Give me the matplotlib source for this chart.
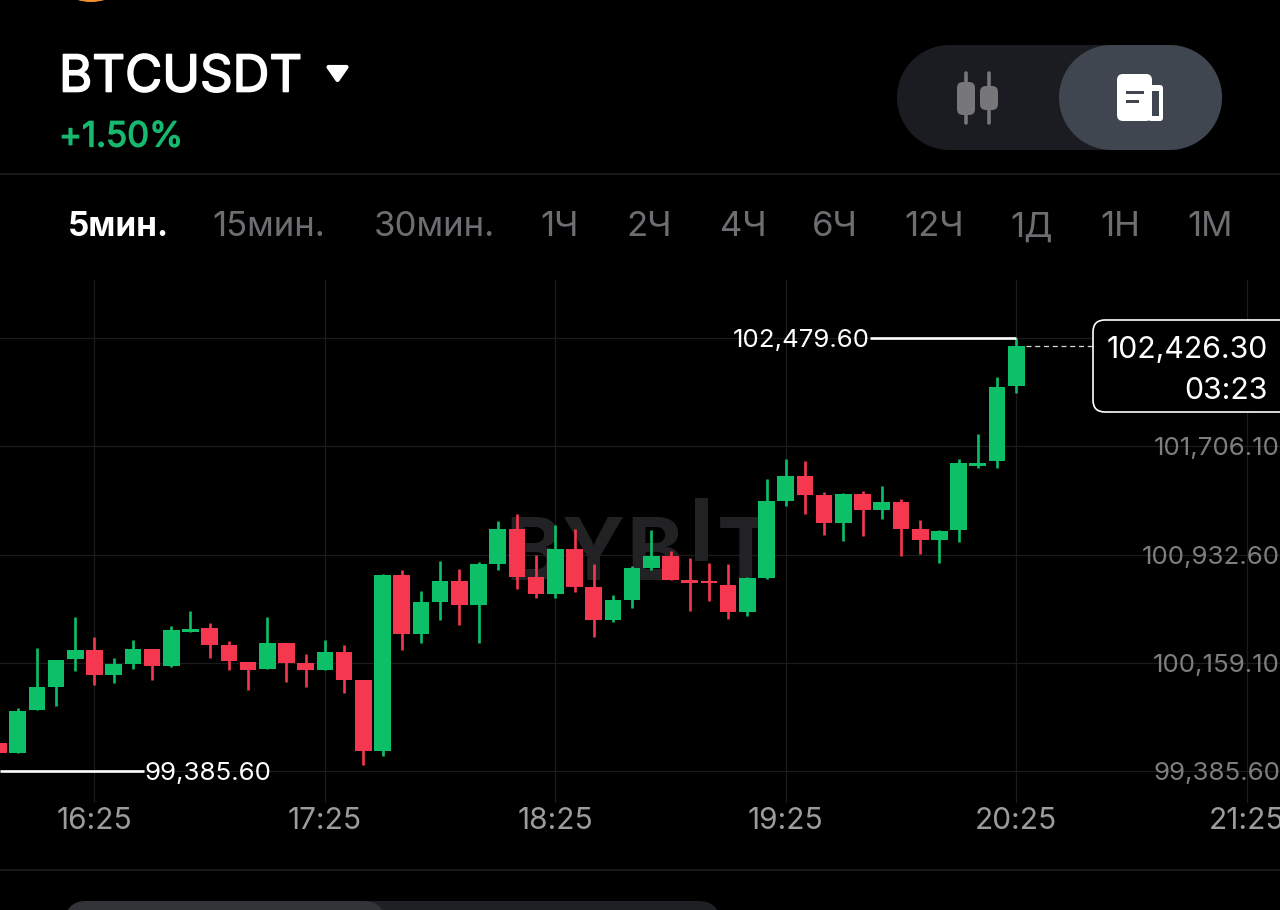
import matplotlib
matplotlib.use("Agg")
import matplotlib.pyplot as plt
import matplotlib.patheffects as pe
import numpy as np
from matplotlib.patches import FancyBboxPatch, Rectangle, Polygon, Ellipse, Circle

opens = [99587, 99520, 99825, 99991, 100187, 100251, 100075, 100153, 100258, 100141,
         100379, 100408, 100291, 100170, 100115, 100303, 100160, 100110, 100241, 100037,
         99532, 100789, 100369, 100596, 100744, 100577, 100867, 101115, 100776, 100653,
         100972, 100701, 100469, 100612, 100841, 100924, 100753, 100748, 100715, 100524,
         100767, 101317, 101495, 101360, 101158, 101365, 101251, 101310, 101115, 101036,
         101108, 101567, 101603, 102136]
closes = [99520, 99820, 99991, 100182, 100251, 100075, 100153, 100258, 100141, 100398,
          100401, 100291, 100172, 100112, 100305, 100160, 100110, 100241, 100039, 99532,
          100789, 100369, 100596, 100744, 100577, 100867, 101115, 100776, 100653, 100972,
          100701, 100469, 100610, 100841, 100922, 100755, 100734, 100731, 100524, 100767,
          101315, 101495, 101362, 101158, 101365, 101251, 101310, 101119, 101036, 101105,
          101586, 101586, 102133, 102426]
highs = [99587, 99841, 100269, 100182, 100491, 100344, 100198, 100324, 100258, 100427,
         100534, 100448, 100317, 100170, 100487, 100303, 100222, 100327, 100289, 100037,
         100796, 100824, 100672, 100886, 100831, 100881, 101172, 101224, 100929, 101143,
         101119, 100867, 100644, 100853, 101110, 100962, 100912, 100872, 100867, 100776,
         101474, 101619, 101600, 101379, 101376, 101386, 101426, 101331, 101179, 101110,
         101615, 101797, 102204, 102479.6]
lows = [99468, 99518, 99825, 99853, 100101, 100003, 100015, 100115, 100037, 100130,
        100379, 100198, 100108, 99965, 100115, 100025, 99989, 100110, 99944, 99430,
        99498, 100253, 100301, 100469, 100434, 100305, 100824, 100691, 100627, 100627,
        100667, 100348, 100451, 100555, 100824, 100751, 100534, 100601, 100474, 100496,
        100760, 101279, 101222, 101076, 101031, 101067, 101191, 100924, 100936, 100872,
        101026, 101553, 101555, 102086]

price_levels = [99385.60, 100159.10, 100932.60, 101706.10, 102479.60]
price_labels = ["99,385.60", "100,159.10", "100,932.60", "101,706.10", ""]
time_ticks = [5, 17, 29, 41, 53, 65]
time_labels = ["16:25", "17:25", "18:25", "19:25", "20:25", "21:25"]
intervals = ["5мин.", "15мин.", "30мин.", "1Ч", "2Ч", "4Ч", "6Ч", "12Ч", "1Д", "1Н", "1М"]
interval_x = [118, 269, 434, 560, 649, 743, 835, 934, 1032, 1120, 1210]
high_price = 102479.60
low_price = 99385.60
last_price = 102426.30

GREEN = "#0DC068"
RED = "#F5384F"
GRID = "#1B1B1D"
WM = "#222224"
FONT = ["Inter", "DejaVu Sans"]

plt.rcParams["font.family"] = FONT
fig = plt.figure(figsize=(12.8, 9.1), dpi=100, facecolor="black")

# price panel
H, W = 910, 1280
ax = fig.add_axes([0, 1 - 803 / H, 1, (803 - 280) / H], facecolor="black")
ax.set_xlim(0.08, 66.74)
ax.set_ylim(99160.7, 102894.4)
for s in ax.spines.values():
    s.set_visible(False)
ax.set_yticks(price_levels)
ax.set_yticklabels(price_labels)
ax.yaxis.tick_right()
ax.tick_params(axis="y", length=0, pad=0, labelsize=18.7, labelcolor="#7E7E80")
for t in ax.get_yticklabels():
    t.set_ha("right")
    t.set_va("center_baseline")
ax.set_xticks(time_ticks)
ax.set_xticklabels(time_labels)
ax.tick_params(axis="x", length=0, pad=3, labelsize=21.5, labelcolor="#9C9C9E")
ax.grid(True, color=GRID, lw=0.9, zorder=0)
ax.set_axisbelow(True)

# watermark
wm_y = 100753
for ch, xw in zip("BYBT", [27.9, 31.0, 34.2, 38.9]):
    ax.text(xw, wm_y, ch, color=WM, fontsize=62, fontweight="bold",
            ha="center", va="baseline", zorder=1)
ax.add_patch(Rectangle((36.27, 100888), 0.68, 450, color=WM, zorder=1, lw=0))

# candles
idx = np.arange(len(opens))
o, c = np.array(opens), np.array(closes)
cols = [GREEN if b >= a else RED for a, b in zip(opens, closes)]
ax.vlines(idx, lows, highs, colors=cols, lw=1.9, zorder=3)
ax.bar(idx, np.abs(c - o), bottom=np.minimum(o, c), width=0.87, color=cols, lw=0, zorder=4)

# high / low / last markers
ax.plot([45.4, 53], [high_price, high_price], color="white", lw=1.9, zorder=5, solid_capstyle="butt")
ax.text(45.4, high_price, "102,479.60", color="white", fontsize=18.6, ha="right",
        va="center_baseline", zorder=6)
ax.plot([0.08, 7.6], [low_price, low_price], color="white", lw=1.9, zorder=5, solid_capstyle="butt")
ax.text(7.6, low_price, "99,385.60", color="white", fontsize=18.7, ha="left",
        va="center_baseline", zorder=6)
ax.plot([53.5, 57], [last_price, last_price], color="#D8D8D8", lw=0.9, ls=(0, (4, 3)), zorder=5)

# app chrome in pixel coordinates
ui = fig.add_axes([0, 0, 1, 1], facecolor="none", zorder=5)
ui.set_xlim(0, W)
ui.set_ylim(H, 0)
ui.axis("off")


def rbox(x0, y0, x1, y1, r, **kw):
    p = FancyBboxPatch((x0 + r, y0 + r), x1 - x0 - 2 * r, y1 - y0 - 2 * r,
                       boxstyle=f"round,pad={r},rounding_size={r}", **kw)
    ui.add_patch(p)
    return p


def pill(x0, y0, x1, y1, color):
    r = (y1 - y0) / 2
    ui.add_patch(Rectangle((x0 + r, y0), x1 - x0 - 2 * r, y1 - y0, fc=color, lw=0))
    ui.add_patch(Circle((x0 + r, y0 + r), r, fc=color, lw=0))
    ui.add_patch(Circle((x1 - r, y0 + r), r, fc=color, lw=0))


ui.add_patch(Ellipse((91, -6), 40, 16, color="#F2922B", lw=0))
ui.text(59, 73, "BTCUSDT", color="white", fontsize=36.6, va="center_baseline", ha="left",
        path_effects=[pe.withStroke(linewidth=1.2, foreground="white")])
tri = Polygon([[328.5, 67], [346.5, 67], [337.5, 80]], closed=True, fc="white", ec="white", lw=3, joinstyle="round")
ui.add_patch(tri)
ui.text(59, 134, "+1.50%", color="#17B96F", fontsize=25, va="center_baseline", ha="left",
        path_effects=[pe.withStroke(linewidth=0.9, foreground="#17B96F")])

# toggle
pill(897, 45, 1222, 150, "#1B1C21")
pill(1059, 45, 1222, 150, "#3F4650")
ICON = "#77777A"
ui.plot([966, 966], [73, 123], color=ICON, lw=2.6, solid_capstyle="round")
ui.plot([989, 989], [73, 123], color=ICON, lw=2.6, solid_capstyle="round")
rbox(957, 82, 975, 115, 6, fc=ICON, ec="none", lw=0)
rbox(980, 86, 998, 110, 6, fc=ICON, ec="none", lw=0)
rbox(1148, 85, 1163, 121, 3, fc="white", ec="none", lw=0)
ui.add_patch(Rectangle((1152, 91), 7, 25, fc="#3F4650", lw=0))
rbox(1117, 74, 1152, 121, 6, fc="white", ec="none", lw=0)
ui.add_patch(Rectangle((1126, 91), 18, 2.8, fc="#3F4650", lw=0))
ui.add_patch(Rectangle((1126, 100), 13, 2.8, fc="#3F4650", lw=0))

# separators
ui.plot([0, W], [174, 174], color="#1C1C1E", lw=1.2)
ui.plot([0, W], [870, 870], color="#1C1C1E", lw=1.2)

# interval tabs
for i, (lab, x) in enumerate(zip(intervals, interval_x)):
    ui.text(x, 224, lab, color="white" if i == 0 else "#6E6E72",
            fontsize=24 if i == 0 else 25, fontweight="bold" if i == 0 else "normal",
            ha="center", va="center_baseline")

# last price box
rbox(1093, 320, 1300, 412, 12, fc="black", ec="white", lw=1.2)
ui.text(1268, 347, "102,426.30", color="white", fontsize=21.8, ha="right", va="center_baseline")
ui.text(1268, 388, "03:23", color="white", fontsize=21.8, ha="right", va="center_baseline")

# bottom control
rbox(65, 901, 720, 940, 22, fc="#1E2024", ec="none", lw=0)
rbox(65, 901, 385, 940, 22, fc="#323438", ec="none", lw=0)

fig.savefig("out.png", dpi=100, facecolor="black")
